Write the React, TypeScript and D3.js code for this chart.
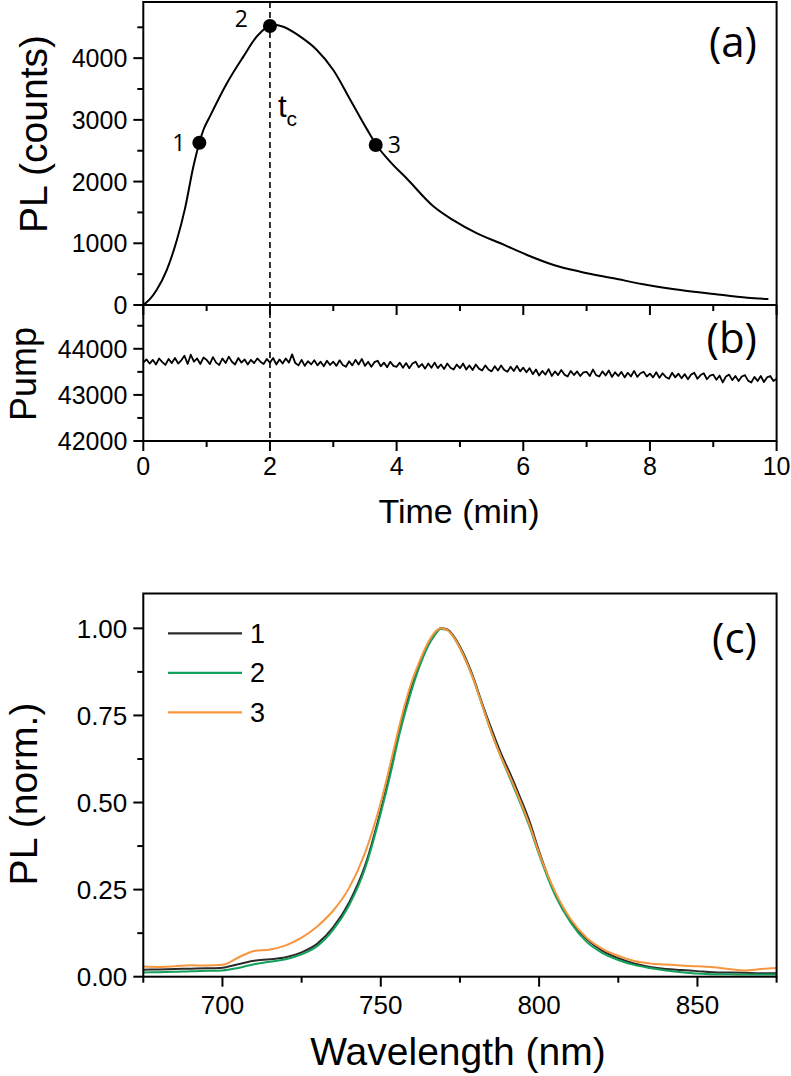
import React from "react";
import * as d3 from "d3";

// ---------- Panel (a): PL vs time ----------
const plTime = [0, 0.1, 0.21, 0.37, 0.53, 0.66, 0.79, 0.885, 0.95, 1.05, 1.32, 1.58, 1.79, 1.95, 2.05, 2.21, 2.48, 2.74, 3.0, 3.27, 3.53, 3.67, 3.9, 4.16, 4.58, 4.9, 5.27, 5.64, 6.06, 6.48, 6.9, 7.43, 7.96, 8.48, 9.01, 9.54, 9.87];
const plCounts = [0, 90, 243, 567, 1053, 1570, 2240, 2630, 2840, 3052, 3593, 4025, 4348, 4500, 4540, 4510, 4348, 4133, 3809, 3323, 2850, 2610, 2320, 2050, 1600, 1370, 1160, 1000, 810, 648, 540, 432, 324, 243, 178, 118, 97];
const markerTimes = [0.885, 2.0, 3.67];
const markerCounts = [2630, 4522, 2593];
const markerLabels = ["1", "2", "3"];
const tcTime = 2.0;

// ---------- Panel (b): pump vs time (sampled every 0.05 min) ----------
const pumpValues = [
  43700, 43770, 43680, 43760, 43660, 43790, 43710, 43650, 43780, 43690, 43800, 43680, 43750, 43850, 43670, 43870, 43720, 43790, 43670, 43810,
  43760, 43670, 43820, 43700, 43650, 43790, 43690, 43830, 43720, 43660, 43800, 43700, 43770, 43660, 43760, 43690, 43790, 43720, 43670, 43780,
  43700, 43800, 43660, 43770, 43680, 43790, 43700, 43880, 43690, 43640, 43760, 43630, 43730, 43660, 43750, 43640, 43720, 43620, 43740, 43650,
  43720, 43630, 43750, 43650, 43610, 43730, 43640, 43760, 43660, 43780, 43630, 43720, 43610, 43710, 43740, 43620, 43700, 43600, 43720, 43630,
  43610, 43700, 43590, 43690, 43580, 43680, 43720, 43600, 43670, 43570, 43680, 43590, 43700, 43580, 43660, 43560, 43680, 43590, 43550, 43660,
  43580, 43680, 43550, 43640, 43540, 43660, 43570, 43530, 43640, 43550, 43510, 43620, 43530, 43640, 43540, 43500, 43610, 43520, 43630, 43510,
  43590, 43490, 43580, 43450, 43550, 43420, 43520, 43440, 43560, 43410, 43510, 43430, 43540, 43440, 43400, 43520, 43430, 43510, 43410, 43490,
  43500, 43410, 43550, 43430, 43400, 43510, 43420, 43530, 43390, 43490, 43410, 43500, 43380, 43480, 43400, 43520, 43390, 43470, 43500, 43400,
  43460, 43380, 43490, 43370, 43470, 43390, 43350, 43480, 43380, 43460, 43360, 43450, 43340, 43440, 43480, 43350, 43430, 43470, 43340, 43420,
  43440, 43330, 43420, 43270, 43400, 43440, 43320, 43410, 43300, 43400, 43430, 43310, 43270, 43390, 43300, 43410, 43280, 43380, 43410, 43300,
  43350,
];
const pumpStep = 0.05;

// ---------- Panel (c): normalized spectra ----------
const wavelengths = [675, 680, 685, 690, 695, 700, 705, 710, 715, 720, 725, 730, 735, 740, 745, 750, 753, 756, 759, 762, 765, 767, 769, 771, 773, 776, 779, 782, 785, 788, 791, 794, 797, 800, 805, 810, 815, 820, 825, 830, 835, 840, 845, 850, 855, 860, 865, 870, 875];
const spec1 = [0.020, 0.021, 0.022, 0.023, 0.024, 0.026, 0.036, 0.046, 0.050, 0.056, 0.070, 0.095, 0.142, 0.213, 0.318, 0.478, 0.59, 0.71, 0.81, 0.89, 0.955, 0.985, 1.0, 0.997, 0.978, 0.93, 0.865, 0.785, 0.71, 0.64, 0.58, 0.515, 0.445, 0.36, 0.24, 0.16, 0.108, 0.074, 0.053, 0.038, 0.028, 0.022, 0.019, 0.016, 0.013, 0.012, 0.011, 0.010, 0.010];
const spec2 = [0.012, 0.013, 0.014, 0.016, 0.017, 0.018, 0.025, 0.036, 0.043, 0.050, 0.064, 0.088, 0.135, 0.205, 0.31, 0.47, 0.58, 0.70, 0.80, 0.885, 0.95, 0.98, 0.998, 0.995, 0.975, 0.925, 0.86, 0.78, 0.70, 0.63, 0.565, 0.50, 0.43, 0.35, 0.235, 0.155, 0.10, 0.068, 0.048, 0.034, 0.025, 0.018, 0.013, 0.009, 0.007, 0.007, 0.006, 0.006, 0.006];
const spec3 = [0.029, 0.028, 0.030, 0.033, 0.032, 0.034, 0.055, 0.074, 0.078, 0.090, 0.112, 0.145, 0.19, 0.255, 0.355, 0.50, 0.61, 0.725, 0.825, 0.90, 0.96, 0.988, 1.0, 0.995, 0.975, 0.925, 0.86, 0.78, 0.70, 0.63, 0.57, 0.505, 0.435, 0.355, 0.245, 0.165, 0.112, 0.08, 0.06, 0.045, 0.038, 0.035, 0.032, 0.030, 0.027, 0.022, 0.018, 0.022, 0.025];
const seriesNames = ["1", "2", "3"];
const seriesColors = ["#2b2b2b", "#12a05c", "#f7963f"];

// ---------- Ticks ----------
const timeTicks = [0, 2, 4, 6, 8, 10];
const timeMinor = [1, 3, 5, 7, 9];
const plTicks = [0, 1000, 2000, 3000, 4000];
const plMinor = [500, 1500, 2500, 3500, 4500];
const pumpTicks = [42000, 43000, 44000];
const pumpMinor = [42500, 43500, 44500];
const wlTicks = [700, 750, 800, 850];
const wlMinor = [675, 725, 775, 825, 875];
const normTicks = [0, 0.25, 0.5, 0.75, 1.0];
const normMinor = [0.125, 0.375, 0.625, 0.875];

const FONT = "'Liberation Sans', Arial, Helvetica, sans-serif";
const LFONT = "'Open Sans', 'DejaVu Sans', sans-serif";

export default function App() {
  const L = 143.3, R = 776.6;
  const xT = d3.scaleLinear().domain([0, 10]).range([L, R]);
  const yA = d3.scaleLinear().domain([0, 4910]).range([305, 2]);
  const yB = d3.scaleLinear().domain([42000, 44950]).range([441, 305]);
  const xC = d3.scaleLinear().domain([675, 875]).range([L, R]);
  const yC = d3.scaleLinear().domain([0, 1.1]).range([976.7, 593.5]);

  const plLine = d3.line<number>().x((_, i) => xT(plTime[i])).y((d) => yA(d)).curve(d3.curveMonotoneX)(plCounts) || "";
  const pumpLine = d3.line<number>().x((_, i) => xT(i * pumpStep)).y((d) => yB(d))(pumpValues) || "";
  const specs = [spec1, spec2, spec3];
  const specLine = (s: number[]) => d3.line<number>().x((_, i) => xC(wavelengths[i])).y((d) => yC(d)).curve(d3.curveMonotoneX)(s) || "";

  const axisW = 2;
  const tickLeft = (scale: any, major: number[], minor: number[], fmt: (v: number) => string, fs: number) => (
    <g>
      {major.map((v) => (
        <g key={"M" + v}>
          <line x1={L - 10} x2={L} y1={scale(v)} y2={scale(v)} stroke="#000" strokeWidth={2} />
          <text x={L - 16} y={scale(v)} dy="0.36em" textAnchor="end" fontSize={fs} fontFamily={FONT}>{fmt(v)}</text>
        </g>
      ))}
      {minor.map((v) => (
        <line key={"m" + v} x1={L - 6} x2={L} y1={scale(v)} y2={scale(v)} stroke="#000" strokeWidth={2} />
      ))}
    </g>
  );
  const tickBottom = (scale: any, y0: number, major: number[], minor: number[], dir: number, fmt: ((v: number) => string) | null, fs: number, labelY: number) => (
    <g>
      {major.map((v) => (
        <g key={"M" + v}>
          <line x1={scale(v)} x2={scale(v)} y1={y0} y2={y0 + dir * 10} stroke="#000" strokeWidth={2} />
          {fmt && <text x={scale(v)} y={labelY} textAnchor="middle" fontSize={fs} fontFamily={FONT}>{fmt(v)}</text>}
        </g>
      ))}
      {minor.map((v) => (
        <line key={"m" + v} x1={scale(v)} x2={scale(v)} y1={y0} y2={y0 + dir * 6} stroke="#000" strokeWidth={2} />
      ))}
    </g>
  );

  return (
    <svg width={791} height={1076} style={{ position: "absolute", left: 0, top: 0, background: "#fff" }}>
      {/* Panel (a) */}
      <path d={plLine} fill="none" stroke="#000" strokeWidth={2} />
      {tickLeft(yA, plTicks, plMinor, (v) => String(v), 25)}
      {/* Panel (b) */}
      <path d={pumpLine} fill="none" stroke="#000" strokeWidth={1.8} strokeLinejoin="round" />
      {tickLeft(yB, pumpTicks, pumpMinor, (v) => String(v), 25)}
      {tickBottom(xT, 305, timeTicks, timeMinor, 1, null, 24, 0)}
      {tickBottom(xT, 441, timeTicks, timeMinor, 1, (v) => String(v), 25, 475)}
      {/* frames a & b */}
      <rect x={L} y={2} width={R - L} height={439} fill="none" stroke="#000" strokeWidth={axisW} />
      <line x1={L} x2={R} y1={305} y2={305} stroke="#000" strokeWidth={axisW} />
      {/* t_c dashed line */}
      <line x1={xT(tcTime)} x2={xT(tcTime)} y1={2} y2={441} stroke="#000" strokeWidth={1.6} strokeDasharray="6,4" />
      <text x={xT(tcTime) + 8} y={117} fontSize={31} fontFamily={FONT}>t<tspan dy={9} fontSize={21}>c</tspan></text>
      {markerTimes.map((t, i) => (
        <circle key={"c" + i} cx={xT(t)} cy={yA(markerCounts[i])} r={7} fill="#000" />
      ))}
      {markerTimes.map((t, i) => {
        const dx = [-14, -22, 12][i];
        const dy = [8, 1, 8][i];
        return (
          <text key={"t" + i} x={xT(t) + dx} y={yA(markerCounts[i]) + dy} textAnchor={dx < 0 ? "end" : "start"} fontSize={23} fontFamily={LFONT}>{markerLabels[i]}</text>
        );
      })}
      <text x={757} y={57} textAnchor="end" fontSize={42} fontFamily={LFONT}>(a)</text>
      <text x={757} y={353} textAnchor="end" fontSize={42} fontFamily={LFONT}>(b)</text>
      <text transform="translate(47,134) rotate(-90)" textAnchor="middle" fontSize={39} fontFamily={FONT}>PL (counts)</text>
      <text transform="translate(36,374) rotate(-90)" textAnchor="middle" fontSize={36} fontFamily={FONT}>Pump</text>
      <text x={459} y={523} textAnchor="middle" fontSize={34} fontFamily={FONT}>Time (min)</text>

      {/* Panel (c) */}
      {specs.map((s, i) => (
        <path key={"s" + i} d={specLine(s)} fill="none" stroke={seriesColors[i]} strokeWidth={2} />
      ))}
      <rect x={L} y={593.5} width={R - L} height={976.7 - 593.5} fill="none" stroke="#000" strokeWidth={axisW} />
      {tickLeft(yC, normTicks, normMinor, (v) => v.toFixed(2), 26)}
      {tickBottom(xC, 976.7, wlTicks, wlMinor, 1, (v) => String(v), 26, 1014)}
      {seriesNames.map((n, i) => (
        <g key={"lg" + i}>
          <line x1={168} x2={242} y1={633.3 + i * 39.5} y2={633.3 + i * 39.5} stroke={seriesColors[i]} strokeWidth={2.2} />
          <text x={250} y={633.3 + i * 39.5 + 9.5} fontSize={27} fontFamily={FONT}>{n}</text>
        </g>
      ))}
      <text x={757} y={653} textAnchor="end" fontSize={42} fontFamily={LFONT}>(c)</text>
      <text transform="translate(37,794) rotate(-90)" textAnchor="middle" fontSize={39} fontFamily={FONT}>PL (norm.)</text>
      <text x={458} y={1065} textAnchor="middle" fontSize={39} fontFamily={FONT}>Wavelength (nm)</text>
    </svg>
  );
}
